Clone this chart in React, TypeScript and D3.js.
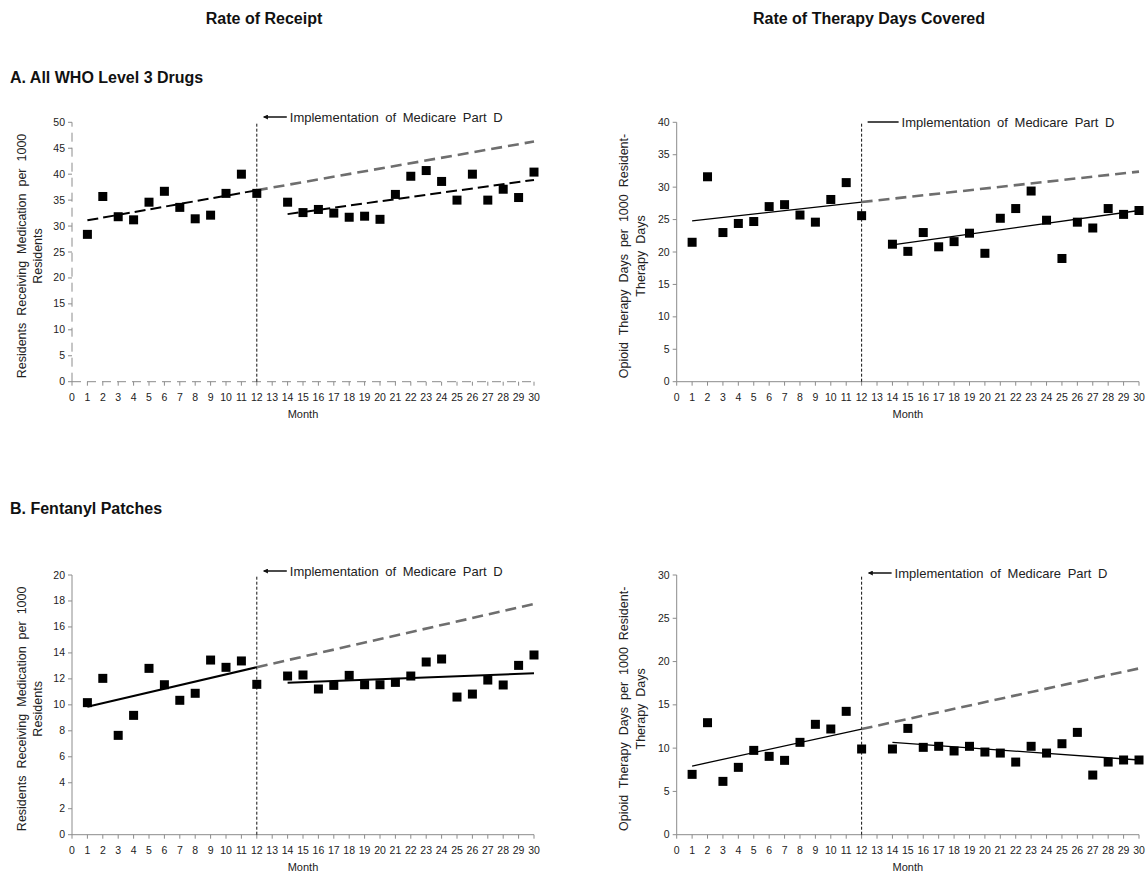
import React from 'react';
import * as d3 from 'd3';

// ---------- data ----------
const months = [1, 2, 3, 4, 5, 6, 7, 8, 9, 10, 11, 12, 14, 15, 16, 17, 18, 19, 20, 21, 22, 23, 24, 25, 26, 27, 28, 29, 30];
const xTicks = d3.range(0, 31);

const receiptAll = [28.4, 35.7, 31.8, 31.2, 34.6, 36.7, 33.6, 31.4, 32.1, 36.3, 40.0, 36.3,
  34.6, 32.6, 33.2, 32.5, 31.7, 31.9, 31.3, 36.1, 39.6, 40.7, 38.6, 35.0, 40.0, 35.0, 37.1, 35.5, 40.4];
const daysAll = [21.5, 31.6, 23.0, 24.4, 24.7, 27.0, 27.3, 25.7, 24.6, 28.1, 30.7, 25.6,
  21.2, 20.1, 23.0, 20.8, 21.6, 22.9, 19.8, 25.2, 26.7, 29.4, 24.9, 19.0, 24.6, 23.7, 26.7, 25.8, 26.4];
const receiptFent = [10.17, 12.04, 7.65, 9.19, 12.81, 11.55, 10.35, 10.89, 13.45, 12.89, 13.38, 11.58,
  12.22, 12.30, 11.22, 11.50, 12.27, 11.55, 11.55, 11.73, 12.22, 13.30, 13.53, 10.60, 10.83, 11.91, 11.53, 13.04, 13.84];
const daysFent = [6.97, 12.94, 6.16, 7.78, 9.74, 9.05, 8.59, 10.67, 12.75, 12.21, 14.25, 9.90,
  9.90, 12.28, 10.09, 10.21, 9.67, 10.21, 9.55, 9.43, 8.39, 10.21, 9.43, 10.51, 11.82, 6.89, 8.39, 8.63, 8.63];

// trend lines: [month, value]
const preTrendReceiptAll: [number, number][] = [[1, 31.1], [12, 36.9]];
const projReceiptAll: [number, number][] = [[12, 36.9], [30, 46.3]];
const postTrendReceiptAll: [number, number][] = [[14, 32.3], [30, 38.9]];

const preTrendDaysAll: [number, number][] = [[1, 24.8], [12, 27.7]];
const projDaysAll: [number, number][] = [[12, 27.7], [30, 32.4]];
const postTrendDaysAll: [number, number][] = [[14, 21.1], [30, 26.4]];

const preTrendReceiptFent: [number, number][] = [[1, 9.86], [12, 12.9]];
const projReceiptFent: [number, number][] = [[12, 12.9], [30, 17.77]];
const postTrendReceiptFent: [number, number][] = [[14, 11.71], [30, 12.43]];

const preTrendDaysFent: [number, number][] = [[1, 7.93], [12, 12.2]];
const projDaysFent: [number, number][] = [[12, 12.2], [30, 19.21]];
const postTrendDaysFent: [number, number][] = [[14, 10.67], [30, 8.63]];

const yTicksReceiptAll = d3.range(0, 51, 5);
const yTicksDaysAll = d3.range(0, 41, 5);
const yTicksReceiptFent = d3.range(0, 21, 2);
const yTicksDaysFent = d3.range(0, 31, 5);

const interventionMonth = 12;
const annotation = 'Implementation of Medicare Part D';
const colTitles = ['Rate of Receipt', 'Rate of Therapy Days Covered'];
const rowTitles = ['A. All WHO Level 3 Drugs', 'B. Fentanyl Patches'];
const yLabelReceipt = ['Residents  Receiving  Medication  per  1000', 'Residents'];
const yLabelDays = ['Opioid  Therapy  Days  per  1000  Resident-', 'Therapy  Days'];

// ---------- drawing ----------
const FONT = 'Arial, "Liberation Sans", Helvetica, sans-serif';

type PanelProps = {
  x0: number; x1: number; yBottom: number; yTop: number;
  yMax: number; yTicks: number[]; values: number[];
  pre: [number, number][]; proj: [number, number][]; post: [number, number][];
  trendDash: string | null; trendWidth: number;
  dashedAxes: boolean; yLabel: string[]; yLabelX: [number, number];
  arrowHead: boolean; annY: number;
};

function Panel(p: PanelProps) {
  const x = d3.scaleLinear().domain([0, 30]).range([p.x0, p.x1]);
  const y = d3.scaleLinear().domain([0, p.yMax]).range([p.yBottom, p.yTop]);
  const line = d3.line<[number, number]>().x(d => x(d[0])).y(d => y(d[1]));
  const axisColor = '#8c8c8c';
  const axisDash = p.dashedAxes ? '9,6' : undefined;
  const sq = 9;
  const xi = x(interventionMonth);
  const midY = (p.yBottom + p.yTop) / 2 + 4;
  return (
    <g>
      {/* axes */}
      <line x1={p.x0} x2={p.x0} y1={p.yBottom} y2={p.yTop} stroke={axisColor} strokeWidth={1} strokeDasharray={axisDash} />
      <line x1={p.x0} x2={p.x1} y1={p.yBottom} y2={p.yBottom} stroke={axisColor} strokeWidth={1} strokeDasharray={axisDash} />
      {p.yTicks.map(t => (
        <g key={'y' + t}>
          <line x1={p.x0 - 4} x2={p.x0} y1={y(t)} y2={y(t)} stroke={axisColor} />
          <text x={p.x0 - 7} y={y(t) + 3.5} textAnchor="end" fontSize={10.5} fill="#222">{t}</text>
        </g>
      ))}
      {xTicks.map(t => (
        <g key={'x' + t}>
          <line x1={x(t)} x2={x(t)} y1={p.yBottom} y2={p.yBottom + 4} stroke={axisColor} />
          <text x={x(t)} y={p.yBottom + 19} textAnchor="middle" fontSize={10.5} fill="#222">{t}</text>
        </g>
      ))}
      <text x={(p.x0 + p.x1) / 2} y={p.yBottom + 36} textAnchor="middle" fontSize={11} fill="#222">Month</text>
      {/* y label */}
      {p.yLabel.map((s, i) => (
        <text key={i} transform={`translate(${p.yLabelX[i]},${midY}) rotate(-90)`} textAnchor="middle" fontSize={12.5} fill="#222" style={{ whiteSpace: 'pre' }}>{s}</text>
      ))}
      {/* intervention line */}
      <line x1={xi} x2={xi} y1={p.yBottom} y2={p.yTop} stroke="#111" strokeWidth={1} strokeDasharray="3,2" />
      {/* annotation */}
      <line x1={xi + (p.arrowHead ? 30 : 37)} x2={xi + (p.arrowHead ? 7 : 6)} y1={p.annY} y2={p.annY} stroke="#111" strokeWidth={1.5}
        markerEnd={p.arrowHead ? 'url(#arrowhead)' : undefined} />
      <text x={xi + (p.arrowHead ? 33 : 40)} y={p.annY + 4.5} fontSize={13} fill="#222" style={{ whiteSpace: 'pre', wordSpacing: '3px' }}>{annotation}</text>
      {/* trends */}
      <path d={line(p.proj) || ''} fill="none" stroke="#6e6e6e" strokeWidth={2.6} strokeDasharray="11,6" />
      <path d={line(p.pre) || ''} fill="none" stroke="#000" strokeWidth={p.trendWidth} strokeDasharray={p.trendDash || undefined} />
      <path d={line(p.post) || ''} fill="none" stroke="#000" strokeWidth={p.trendWidth} strokeDasharray={p.trendDash || undefined} />
      {/* points */}
      {months.map((m, i) => (
        <rect key={m} x={x(m) - sq / 2} y={y(p.values[i]) - sq / 2} width={sq} height={sq} fill="#000" />
      ))}
    </g>
  );
}

export default function App() {
  const W = 1147, H = 880;
  const leftX: [number, number] = [72, 534];
  const rightX: [number, number] = [676.7, 1139];
  const topY: [number, number] = [381.7, 122.3];
  const botY: [number, number] = [834.7, 575];
  return (
    <svg width={W} height={H} style={{ position: 'absolute', left: 0, top: 0, background: '#fff' }} fontFamily={FONT}>
      <defs>
        <marker id="arrowhead" viewBox="0 0 6 6" refX="5" refY="3" markerWidth="5" markerHeight="5" orient="auto" markerUnits="userSpaceOnUse">
          <path d="M0,0 L6,3 L0,6 z" fill="#111" />
        </marker>
      </defs>
      <rect width={W} height={H} fill="#fff" />
      <text x={264} y={24} textAnchor="middle" fontWeight="bold" fontSize={16} fill="#111">{colTitles[0]}</text>
      <text x={869} y={24} textAnchor="middle" fontWeight="bold" fontSize={16} fill="#111">{colTitles[1]}</text>
      <text x={10} y={83} fontWeight="bold" fontSize={16} fill="#111">{rowTitles[0]}</text>
      <text x={10} y={514} fontWeight="bold" fontSize={16} fill="#111">{rowTitles[1]}</text>

      <Panel x0={leftX[0]} x1={leftX[1]} yBottom={topY[0]} yTop={topY[1]} yMax={50} yTicks={yTicksReceiptAll}
        values={receiptAll} pre={preTrendReceiptAll} proj={projReceiptAll} post={postTrendReceiptAll}
        trendDash="11,5" trendWidth={2} dashedAxes={true} yLabel={yLabelReceipt} yLabelX={[26, 42]} arrowHead={true} annY={117} />
      <Panel x0={rightX[0]} x1={rightX[1]} yBottom={topY[0]} yTop={topY[1]} yMax={40} yTicks={yTicksDaysAll}
        values={daysAll} pre={preTrendDaysAll} proj={projDaysAll} post={postTrendDaysAll}
        trendDash={null} trendWidth={1.3} dashedAxes={false} yLabel={yLabelDays} yLabelX={[628, 645]} arrowHead={false} annY={122} />
      <Panel x0={leftX[0]} x1={leftX[1]} yBottom={botY[0]} yTop={botY[1]} yMax={20} yTicks={yTicksReceiptFent}
        values={receiptFent} pre={preTrendReceiptFent} proj={projReceiptFent} post={postTrendReceiptFent}
        trendDash={null} trendWidth={2} dashedAxes={false} yLabel={yLabelReceipt} yLabelX={[26, 42]} arrowHead={true} annY={571} />
      <Panel x0={rightX[0]} x1={rightX[1]} yBottom={botY[0]} yTop={botY[1]} yMax={30} yTicks={yTicksDaysFent}
        values={daysFent} pre={preTrendDaysFent} proj={projDaysFent} post={postTrendDaysFent}
        trendDash={null} trendWidth={1.3} dashedAxes={false} yLabel={yLabelDays} yLabelX={[628, 645]} arrowHead={true} annY={573} />
    </svg>
  );
}
